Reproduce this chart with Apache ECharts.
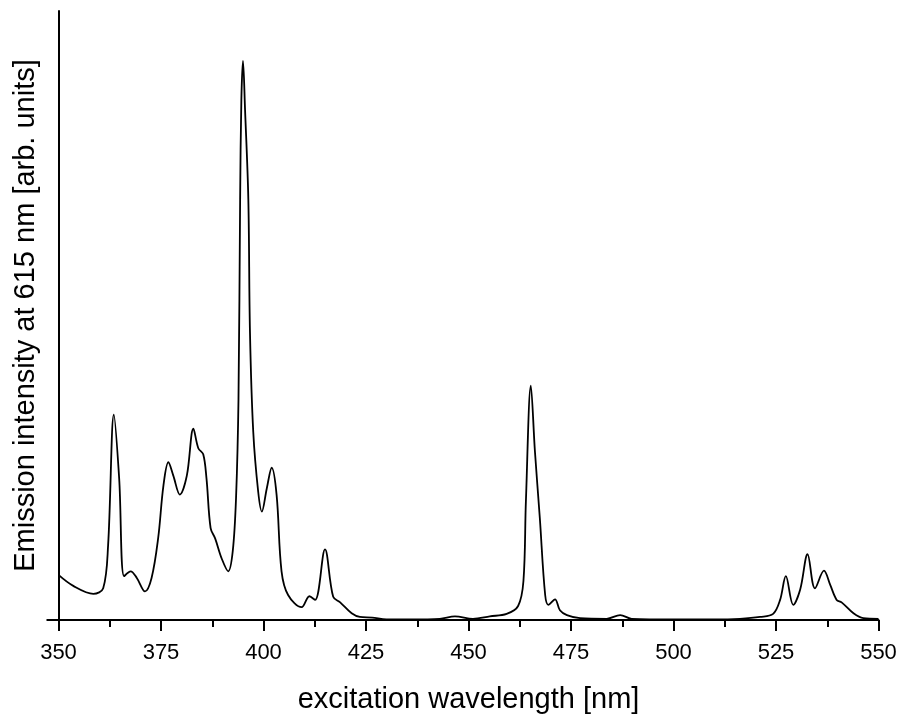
<!DOCTYPE html>
<html>
<head>
<meta charset="UTF-8">
<title>Excitation spectrum</title>
<script type="text/javascript" src="https://cdn.jsdelivr.net/npm/echarts@6/dist/echarts.min.js"></script>
<style>
  html, body { margin: 0; padding: 0; background: #fff; }
</style>
</head>
<body>
    <div id="main" style="width: 904px;height:719px;"></div>
    <script type="text/javascript">
    // excitation wavelength [nm]
    var wavelength = [350, 353.6, 358.5, 360.9, 362.1, 363.5, 364.8, 366.0, 367.6, 369.1,
        371.1, 372.7, 374.3, 375.6, 376.8, 378.0, 379.6, 381.3, 382.9, 384.1,
        385.3, 386.1, 387.1, 388.2, 389.8, 391.4, 392.5, 393.3, 393.9, 394.3,
        394.6, 395.0, 395.5, 396.3, 396.7, 397.5, 398.7, 399.6, 400.8, 402.0,
        403.2, 404.4, 406.0, 409.3, 411.2, 412.6, 415.0, 417.0, 418.7, 421.5,
        423.5, 426.5, 430, 436, 443, 446.7, 451.1, 455.2, 459.3, 462.1,
        463.4, 464.0, 465.2, 466.2, 467.4, 468.7, 469.5, 471.1, 472.3, 474.0,
        477.2, 483.7, 487.0, 489.8, 500, 510, 516.2, 521.1, 524.3, 526.0,
        527.4, 529.2, 530.9, 532.7, 534.5, 536.7, 538.2, 539.8, 541.0, 543.9,
        546.3, 550];
    // emission intensity at 615 nm [arb. units]
    var intensity = [7.4, 5.6, 4.3, 5.2, 12.3, 33.7, 23.2, 7.2, 8.0, 6.9,
        4.7, 6.9, 13.4, 22.1, 25.9, 23.7, 20.6, 23.7, 31.4, 28.2,
        27.2, 23.2, 15.1, 13.4, 10.1, 8.0, 11.3, 20.0, 36.3, 69.1,
        85.4, 91.8, 83.8, 69.1, 47.3, 30.9, 21.1, 17.8, 21.6, 25.0,
        20.5, 8.0, 4.1, 2.1, 3.9, 3.3, 11.6, 3.8, 2.9, 1.1,
        0.5, 0.4, 0.1, 0.1, 0.2, 0.6, 0.2, 0.6, 1.0, 2.3,
        6.4, 19.5, 38.5, 27.7, 16.7, 4.1, 2.5, 3.4, 1.6, 0.8,
        0.3, 0.2, 0.8, 0.2, 0.1, 0.1, 0.2, 0.5, 1.0, 3.3,
        7.2, 2.5, 5.0, 10.8, 5.2, 8.1, 5.8, 3.3, 2.9, 1.1,
        0.3, 0.2];

    var xMin = 350, xMax = 550, xStep = 25;
    var yMax = 100;

    var points = [];
    for (var i = 0; i < wavelength.length; i++) {
        points.push([wavelength[i], intensity[i]]);
    }

    var myChart = echarts.init(document.getElementById('main'));
    var font = 'Liberation Sans, Arial, sans-serif';
    var option = {
        animation: false,
        backgroundColor: '#fff',
        grid: { left: 58.5, right: 25.5, top: 11, bottom: 97 },
        xAxis: {
            type: 'value',
            min: xMin,
            max: xMax,
            interval: xStep,
            name: 'excitation wavelength [nm]',
            nameLocation: 'middle',
            nameGap: 65,
            nameTextStyle: { fontFamily: font, fontSize: 29, color: '#000' },
            axisLine: { lineStyle: { color: '#000', width: 2 } },
            axisTick: { inside: false, length: 11, lineStyle: { color: '#000', width: 2 } },
            minorTick: { show: true, splitNumber: 2, length: 7, lineStyle: { color: '#000', width: 2 } },
            axisLabel: { fontFamily: font, fontSize: 22, color: '#000', margin: 22 },
            splitLine: { show: false }
        },
        yAxis: {
            type: 'value',
            min: 0,
            max: yMax,
            name: 'Emission intensity at 615 nm [arb. units]',
            nameLocation: 'middle',
            nameGap: 18,
            nameTextStyle: { fontFamily: font, fontSize: 29, color: '#000' },
            axisLine: { show: true, lineStyle: { color: '#000', width: 2 } },
            axisTick: { show: true, inside: false, length: 12, customValues: [0], lineStyle: { color: '#000', width: 2 } },
            axisLabel: { show: false },
            splitLine: { show: false }
        },
        series: [{
            type: 'line',
            data: points,
            showSymbol: false,
            smooth: 0.35,
            lineStyle: { color: '#000', width: 1.8 },
            z: 1
        }]
    };
    myChart.setOption(option);
    </script>
</body>
</html>
